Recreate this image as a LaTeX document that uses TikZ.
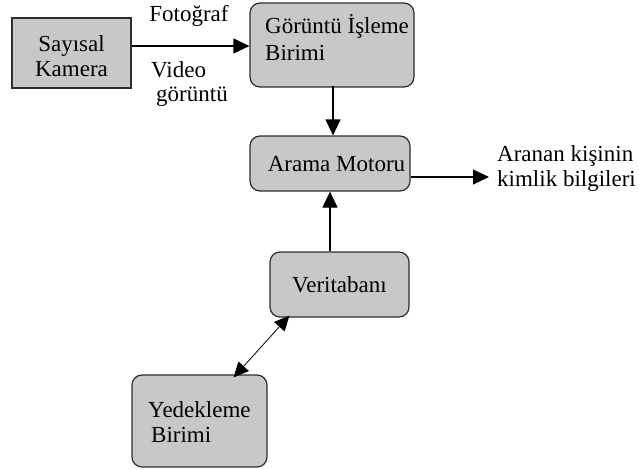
\documentclass[tikz,border=0pt]{standalone}
\usepackage{fontspec}
\setmainfont{Liberation Serif}
\usetikzlibrary{arrows.meta}
\definecolor{boxfill}{RGB}{200,200,200}
\definecolor{edge}{RGB}{45,45,45}
\begin{document}
\begin{tikzpicture}[x=1pt,y=-1pt,
  font=\fontsize{23}{26}\selectfont,
  blk/.style={draw=edge,line width=1.2pt,fill=boxfill,inner sep=0pt},
  rblk/.style={blk,rounded corners=10pt},
  arr/.style={line width=1.2pt,-{Triangle[length=16pt,width=15pt]}},
  darr/.style={line width=0.8pt,{Triangle[length=15pt,width=14pt]}-{Triangle[length=15pt,width=14pt]}},
  lbl/.style={inner sep=0pt,align=left}]
\useasboundingbox (0,0) rectangle (639,469);
\node[blk,minimum width=119pt,minimum height=70pt] (cam) at (71.5,53) {};
\node[inner sep=0pt,align=center,font=\fontsize{23}{25}\selectfont] (camt) at (71.5,56) {Sayısal\\Kamera};
\node[rblk,minimum width=164pt,minimum height=84pt] (gor) at (332,45) {};
\node[lbl,anchor=west,font=\fontsize{23}{27}\selectfont] (gort) at (265,38) {Görüntü İşleme\\Birimi};
\node[rblk,minimum width=160pt,minimum height=55pt] (ara) at (330,163.5) {};
\node[inner sep=0pt] (arat) at (336.5,164) {Arama Motoru};
\node[rblk,minimum width=139pt,minimum height=65pt] (ver) at (339.5,284.5) {Veritabanı};
\node[rblk,minimum width=135pt,minimum height=92pt] (yed) at (199.5,421) {};
\node[lbl,anchor=west,font=\fontsize{23}{25}\selectfont] (yedt) at (148,422) {Yedekleme\\\hspace{3pt}Birimi};
\node[inner sep=0pt] (foto) at (189,16) {Fotoğraf};
\node[inner sep=0pt,anchor=west] (vid) at (151,70) {Video};
\node[inner sep=0pt,anchor=west] (gvid) at (156,97) {görüntü};
\node[lbl,anchor=west,font=\fontsize{23}{25}\selectfont] (out) at (497,168) {Aranan kişinin\\kimlik bilgileri};
\coordinate (outend) at (489,177);
\draw[arr] (cam.east |- 0,46) -- (gor.west |- 0,46);
\draw[arr] (ara.north -| 333,0) ++(0,-49) -- (ara.north -| 333,0);
\draw[arr] (ara.east |- outend) -- (outend);
\draw[arr] (ara.south |- ver.north) -- (ara.south);
\draw[darr] ([xshift=-34pt,yshift=-3pt]yed.north east) -- ([xshift=20pt,yshift=2pt]ver.south west);
\end{tikzpicture}
\end{document}
